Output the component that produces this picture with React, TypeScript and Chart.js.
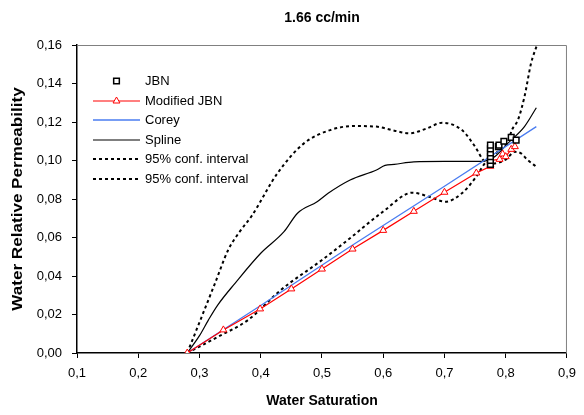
import React, { useEffect, useRef } from 'react';
import { Chart, registerables } from 'chart.js';

Chart.register(...registerables);

const TITLE = '1.66 cc/min';
const X_TITLE = 'Water Saturation';
const Y_TITLE = 'Water Relative Permeability';
const X_TICKS = [0.1, 0.2, 0.3, 0.4, 0.5, 0.6, 0.7, 0.8, 0.9];
const Y_TICKS = [0, 0.02, 0.04, 0.06, 0.08, 0.1, 0.12, 0.14, 0.16];
const LEGEND_LABELS = ['JBN', 'Modified JBN', 'Corey', 'Spline', '95% conf. interval', '95% conf. interval'];

const JBN_X = [0.775, 0.775, 0.775, 0.775, 0.775, 0.775, 0.788, 0.789, 0.797, 0.809, 0.817];
const JBN_Y = [0.098, 0.1, 0.102, 0.104, 0.106, 0.108, 0.1072, 0.108, 0.11, 0.112, 0.1106];

const MJBN_X = [0.28, 0.339, 0.399, 0.45, 0.5, 0.55, 0.6, 0.65, 0.7, 0.752, 0.775, 0.775, 0.775, 0.775, 0.79, 0.795, 0.8, 0.809, 0.815];
const MJBN_Y = [0, 0.012, 0.0229, 0.0333, 0.0436, 0.054, 0.0637, 0.0736, 0.0835, 0.0935, 0.097, 0.098, 0.099, 0.1, 0.1006, 0.1034, 0.102, 0.1058, 0.1072];

const COREY_X = [0.28, 0.4, 0.5457, 0.7, 0.85];
const COREY_Y = [0, 0.0247, 0.0552, 0.0866, 0.1176];

const SPLINE_X = [0.28, 0.3, 0.3145, 0.33, 0.358, 0.4, 0.438, 0.46, 0.492, 0.51, 0.546, 0.589, 0.603, 0.618, 0.65, 0.7, 0.76, 0.78, 0.8037, 0.8306, 0.85];
const SPLINE_Y = [0, 0.009, 0.0171, 0.025, 0.0362, 0.0518, 0.063, 0.0726, 0.0786, 0.083, 0.0899, 0.0951, 0.0975, 0.098, 0.0993, 0.0995, 0.0995, 0.1015, 0.109, 0.1176, 0.1274];

const UPPER_X = [0.28, 0.3037, 0.3253, 0.3468, 0.3656, 0.3844, 0.4274, 0.4705, 0.5134, 0.551, 0.5887, 0.6182, 0.6424, 0.67, 0.6963, 0.7285, 0.75, 0.766, 0.78, 0.8, 0.815, 0.825, 0.835, 0.85];
const UPPER_Y = [0, 0.0189, 0.0362, 0.0535, 0.063, 0.0708, 0.0934, 0.1089, 0.1158, 0.1179, 0.1176, 0.1155, 0.1141, 0.1165, 0.1196, 0.1158, 0.1072, 0.0994, 0.0985, 0.1005, 0.1045, 0.1037, 0.1005, 0.0968];

const LOWER_X = [0.28, 0.3306, 0.379, 0.4327, 0.5, 0.5457, 0.5995, 0.6479, 0.6747, 0.7016, 0.7285, 0.75, 0.766, 0.78, 0.79, 0.8037, 0.81, 0.8199, 0.8306, 0.8414, 0.851];
const LOWER_Y = [0, 0.0085, 0.0171, 0.0327, 0.0483, 0.0596, 0.0734, 0.0833, 0.0812, 0.0786, 0.083, 0.0908, 0.0985, 0.102, 0.106, 0.1098, 0.1158, 0.121, 0.1331, 0.1505, 0.16];

const pts = (xs: number[], ys: number[]) => xs.map((x, i) => ({ x, y: ys[i] }));

const FONT = '"Liberation Sans", Arial, sans-serif';
const BLUE = '#4a7cf0';
const RED = '#ff0000';

function drawMarker(ctx: CanvasRenderingContext2D, style: string, r: number, x: number, y: number) {
  ctx.beginPath();
  if (style === 'rect') {
    const s = r * Math.SQRT1_2;
    ctx.rect(x - s, y - s, 2 * s, 2 * s);
  } else if (style === 'triangle') {
    const a = (2 * Math.PI) / 3;
    ctx.moveTo(x, y - r);
    ctx.lineTo(x + Math.sin(a) * r, y - Math.cos(a) * r);
    ctx.lineTo(x - Math.sin(a) * r, y - Math.cos(a) * r);
    ctx.closePath();
  }
  ctx.fill();
  ctx.stroke();
}

const decorPlugin = {
  id: 'decor',
  afterDraw(chart: any) {
    const ctx = chart.ctx as CanvasRenderingContext2D;
    const a = chart.chartArea;
    ctx.save();
    ctx.strokeStyle = '#808080';
    ctx.lineWidth = 1;
    ctx.beginPath();
    ctx.moveTo(a.left, a.top + 0.5);
    ctx.lineTo(a.right - 0.5, a.top + 0.5);
    ctx.lineTo(a.right - 0.5, a.bottom);
    ctx.stroke();

    ctx.fillStyle = '#000';
    ctx.textAlign = 'center';
    ctx.textBaseline = 'middle';
    ctx.font = `bold 14px ${FONT}`;
    ctx.fillText(TITLE, 322, 18);
    ctx.fillText(X_TITLE, (a.left + a.right) / 2, 401);
    ctx.save();
    ctx.translate(18, (a.top + a.bottom) / 2);
    ctx.rotate(-Math.PI / 2);
    ctx.scale(1.22, 1);
    ctx.fillText(Y_TITLE, 0, 0);
    ctx.restore();

    const rows = [81, 101, 120, 140, 159, 179];
    const x0 = 93, x1 = 140;
    ctx.font = `13px ${FONT}`;
    ctx.textAlign = 'left';
    chart.data.datasets.forEach((ds: any, i: number) => {
      const y = rows[i];
      if (ds.showLine !== false) {
        ctx.save();
        ctx.strokeStyle = ds.borderColor;
        ctx.lineWidth = ds.borderWidth;
        ctx.setLineDash(ds.borderDash || []);
        ctx.beginPath();
        ctx.moveTo(x0, y);
        ctx.lineTo(x1, y);
        ctx.stroke();
        ctx.restore();
      }
      if (ds.pointRadius > 0) {
        ctx.save();
        ctx.strokeStyle = ds.pointBorderColor;
        ctx.fillStyle = ds.pointBackgroundColor;
        ctx.lineWidth = ds.pointBorderWidth;
        drawMarker(ctx, ds.pointStyle, ds.pointRadius, (x0 + x1) / 2, y);
        ctx.restore();
      }
      ctx.fillStyle = '#000';
      ctx.fillText(LEGEND_LABELS[i], 145, y);
    });
    ctx.restore();
  },
};

export default function App() {
  const ref = useRef<HTMLCanvasElement>(null);
  useEffect(() => {
    if (!ref.current) return;
    const chart = new Chart(ref.current, {
      type: 'line',
      data: {
        datasets: [
          {
            label: LEGEND_LABELS[0],
            data: pts(JBN_X, JBN_Y),
            showLine: false,
            pointStyle: 'rect',
            pointRadius: 4,
            pointBorderWidth: 1.5,
            pointBorderColor: '#000',
            pointBackgroundColor: '#fff',
            borderColor: '#000',
            backgroundColor: '#fff',
          },
          {
            label: LEGEND_LABELS[1],
            data: pts(MJBN_X, MJBN_Y),
            borderColor: RED,
            borderWidth: 1.2,
            pointStyle: 'triangle',
            pointRadius: 4,
            pointBorderWidth: 1,
            pointBorderColor: RED,
            pointBackgroundColor: '#fff',
          },
          {
            label: LEGEND_LABELS[2],
            data: pts(COREY_X, COREY_Y),
            borderColor: BLUE,
            borderWidth: 1.3,
            pointRadius: 0,
          },
          {
            label: LEGEND_LABELS[3],
            data: pts(SPLINE_X, SPLINE_Y),
            borderColor: '#000',
            borderWidth: 1.2,
            pointRadius: 0,
            cubicInterpolationMode: 'monotone',
          },
          {
            label: LEGEND_LABELS[4],
            data: pts(UPPER_X, UPPER_Y),
            borderColor: '#000',
            borderWidth: 2,
            borderDash: [3, 3],
            pointRadius: 0,
            cubicInterpolationMode: 'monotone',
          },
          {
            label: LEGEND_LABELS[5],
            data: pts(LOWER_X, LOWER_Y),
            borderColor: '#000',
            borderWidth: 2,
            borderDash: [3, 3],
            pointRadius: 0,
            cubicInterpolationMode: 'monotone',
          },
        ],
      },
      options: {
        animation: false,
        responsive: false,
        maintainAspectRatio: false,
        layout: { padding: { top: 45, right: 11, left: 0, bottom: 0 } },
        plugins: { legend: { display: false }, title: { display: false }, tooltip: { enabled: false } },
        scales: {
          x: {
            type: 'linear',
            min: 0.1,
            max: 0.9,
            afterFit: (s: any) => { s.height = 62; },
            afterBuildTicks: (s: any) => { s.ticks = X_TICKS.map((v) => ({ value: v })); },
            ticks: {
              padding: 8,
              color: '#000',
              font: { family: FONT, size: 13 },
              callback: (v: any) => Number(v).toFixed(1).replace('.', ','),
            },
            grid: { display: true, drawOnChartArea: false, drawTicks: true, tickLength: 5, color: '#000' },
            border: { display: true, color: '#000', width: 1.5 },
          },
          y: {
            type: 'linear',
            min: 0,
            max: 0.16,
            afterFit: (s: any) => { s.width = 77; },
            afterBuildTicks: (s: any) => { s.ticks = Y_TICKS.map((v) => ({ value: v })); },
            ticks: {
              padding: 10,
              color: '#000',
              font: { family: FONT, size: 13 },
              callback: (v: any) => Number(v).toFixed(2).replace('.', ','),
            },
            grid: { display: true, drawOnChartArea: false, drawTicks: true, tickLength: 5, color: '#000' },
            border: { display: true, color: '#000', width: 1.5 },
          },
        },
      },
      plugins: [decorPlugin],
    } as any);
    return () => chart.destroy();
  }, []);
  return (
    <div style={{ position: 'absolute', left: 0, top: 0, width: 584, height: 415, background: '#fff' }}>
      <canvas ref={ref} width={584} height={415} style={{ width: 584, height: 415, display: 'block' }} />
    </div>
  );
}
